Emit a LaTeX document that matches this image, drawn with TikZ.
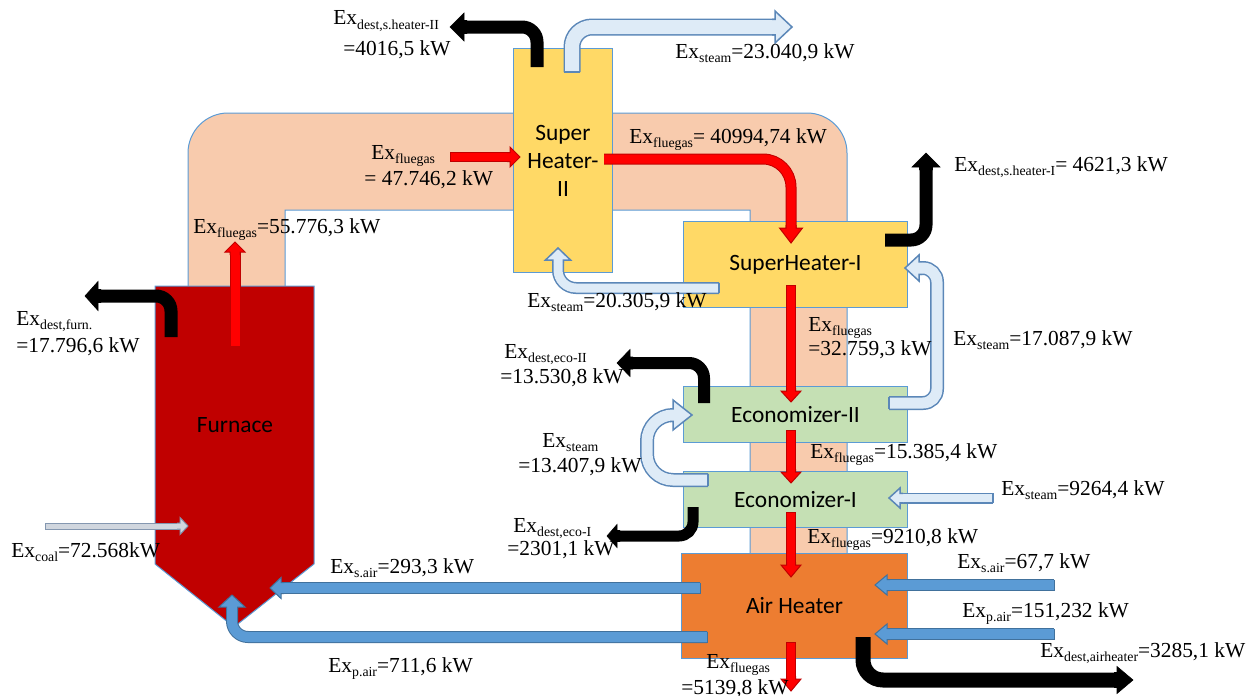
\documentclass[tikz,border=0pt]{standalone}
\usepackage{fontspec}
\setmainfont{Liberation Serif}
\newfontfamily\boxfont{Carlito}
\definecolor{duct}{HTML}{F8CBAD}
\definecolor{edge}{HTML}{5B9BD5}
\definecolor{shy}{HTML}{FFD966}
\definecolor{ecog}{HTML}{C5E0B4}
\definecolor{airh}{HTML}{ED7D31}
\definecolor{furn}{HTML}{C00000}
\definecolor{flue}{HTML}{FF0000}
\definecolor{flueedge}{HTML}{C00000}
\definecolor{steamfill}{HTML}{DEEBF7}
\definecolor{steamedge}{HTML}{5B87B8}
\definecolor{airfill}{HTML}{5B9BD5}
\definecolor{airedge}{HTML}{41719C}
\definecolor{coalfill}{HTML}{D0D6DE}
\definecolor{coaledge}{HTML}{8497B0}
\newcommand\sbs[1]{\raisebox{-2.3pt}{\fontsize{6.9}{7}\selectfont #1}}
\tikzset{
  pics/ahead/.style args={#1/#2/#3/#4}{code={%
    \path[pic actions] (-#3-#4,#1) -- (-#3,#1) -- (-#3,#2) -- (0,0) -- (-#3,-#2) -- (-#3,-#1) -- (-#3-#4,-#1);}},
  pics/atail/.style={code={\path[pic actions] (0,-#1) -- (0,#1);}},
}
\begin{document}
\begin{tikzpicture}[x=0.5pt,y=-0.5pt,
  lbl/.style={inner sep=0pt, anchor=base west, font=\fontsize{10.7}{13}\selectfont},
  box/.style={draw=edge, line width=0.5pt, inner sep=0pt, anchor=north west, align=center, font=\boxfont\fontsize{11.7}{14}\selectfont},
  redsh/.style={draw=flueedge, double=flue, line width=0.5pt, double distance=#1},
  redhd/.style={fill=flue, draw=flueedge, line width=0.5pt},
  redtl/.style={draw=flueedge, line width=0.5pt},
  blksh/.style={draw=black, line width=#1},
  blkhd/.style={fill=black, draw=black, line width=0.3pt},
  stmsh/.style={draw=steamedge, double=steamfill, line width=0.75pt, double distance=#1},
  stmhd/.style={fill=steamfill, draw=steamedge, line width=0.75pt},
  stmtl/.style={draw=steamedge, line width=0.75pt},
  airsh/.style={draw=airedge, double=airfill, line width=0.5pt, double distance=#1},
  airhd/.style={fill=airfill, draw=airedge, line width=0.5pt},
  airtl/.style={draw=airedge, line width=0.5pt},
  coalsh/.style={draw=coaledge, double=coalfill, line width=0.5pt, double distance=2.5pt},
  coalhd/.style={fill=coalfill, draw=coaledge, line width=0.5pt},
  coaltl/.style={draw=coaledge, line width=0.5pt}]
\useasboundingbox (0,0) rectangle (1250,696);
% flue gas duct
\draw[fill=duct, draw=edge, line width=0.5pt] (188,295) -- (188,153) .. controls (188,131) and (206,113) .. (228,113) -- (807,113) .. controls (829,113) and (847,131) .. (847,153) -- (847,560) -- (750,560) -- (750,210) -- (285,210) -- (285,295) -- cycle;
% furnace
\draw[fill=furn, draw=edge, line width=0.5pt] (155,286) -- (314,286) -- (314,564) -- (234,627) -- (155,564) -- cycle;
\node[inner sep=0pt, font=\boxfont\fontsize{11.7}{14}\selectfont] (furnace) at (235,425) {Furnace};
% boxes
\node[box, fill=shy, minimum width=49.5pt, minimum height=112pt] (sh2) at (513,48) {Super\\Heater-\\II};
\node[box, fill=shy, minimum width=112pt, minimum height=43pt] (sh1) at (683,221) {SuperHeater-I};
\node[box, fill=ecog, minimum width=112pt, minimum height=28pt] (eco2) at (683,386) {Economizer-II};
\node[box, fill=ecog, minimum width=112pt, minimum height=28pt] (eco1) at (683,471) {Economizer-I};
\node[box, fill=airh, minimum width=113pt, minimum height=52.5pt] (ah) at (681,553) {Air Heater};
% ---- arrows ----
% black: destruction SH-II
\draw[blksh=6.5pt, rounded corners=7.5pt] (537,67) -- (537,27) -- (464,27);
\pic[blkhd, rotate=180] at (450,27) {ahead=6.5/14/14/3};
% steam out 23.040,9
\draw[stmsh=7pt, rounded corners=10pt] (572,72) -- (572,27) -- (775,27);
\pic[stmhd] at (792,27) {ahead=7.75/16/17/3};
\pic[stmtl, rotate=90] at (572,72) {atail=7.75};
% red 47.746,2
\draw[redsh=4pt] (450,157) -- (510,157);
\pic[redhd] at (520,157) {ahead=4.5/10/10/3};
\pic[redtl] at (450,157) {atail=4.5};
% red 40994,74
\draw[redsh=4.5pt, rounded corners=14pt] (604,159) -- (791,159) -- (791,228);
\pic[redhd, rotate=-90] at (791,243) {ahead=5/11.5/15/3};
% red 55.776,3
\draw[redsh=4.5pt] (235,346) -- (235,252);
\pic[redhd, rotate=90] at (235,242) {ahead=5/10/10/3};
\pic[redtl, rotate=90] at (235,346) {atail=5};
% black furnace
\draw[blksh=6.5pt, rounded corners=7.5pt] (171,337) -- (171,296) -- (98,296);
\pic[blkhd, rotate=180] at (85,296) {ahead=6.5/14.5/13/3};
% coal
\draw[coalsh] (45,526) -- (180,526);
\pic[coalhd] at (188,526) {ahead=3/8.5/8/3};
\pic[coaltl] at (45,526) {atail=3};
% secondary air to furnace
\draw[airsh=5pt] (700,588) -- (281,588);
\pic[airhd, rotate=180] at (270,588) {ahead=5.5/10.5/11/3};
\pic[airtl] at (700,588) {atail=5.5};
% primary air to furnace
\draw[airsh=5pt, rounded corners=8pt] (707,637) -- (232,637) -- (232,607);
\pic[airhd, rotate=90] at (232,595) {ahead=5.5/13/12/3};
\pic[airtl] at (707,637) {atail=5.5};
% air inlets
\draw[airsh=5pt] (1054,585) -- (887,585);
\pic[airhd, rotate=180] at (875,585) {ahead=5.5/10/12/3};
\pic[airtl] at (1054,585) {atail=5.5};
\draw[airsh=5pt] (1054,634) -- (887,634);
\pic[airhd, rotate=180] at (875,634) {ahead=5.5/10/12/3};
\pic[airtl] at (1054,634) {atail=5.5};
% black air heater
\draw[blksh=7.5pt, rounded corners=10pt] (863,637) -- (863,680) -- (1117,680);
\pic[blkhd] at (1133,680) {ahead=7.5/13.5/16/3};
% red flue gas verticals
\draw[redsh=4pt] (791,642) -- (791,679);
\pic[redhd, rotate=-90] at (791,691) {ahead=4.5/10/12/3};
\pic[redtl, rotate=90] at (791,642) {atail=4.5};
\draw[redsh=4pt] (791,512) -- (791,565);
\pic[redhd, rotate=-90] at (791,577) {ahead=4.5/10/12/3};
\pic[redtl, rotate=90] at (791,512) {atail=4.5};
\draw[redsh=4pt] (791,430) -- (791,472);
\pic[redhd, rotate=-90] at (791,483) {ahead=4.5/10/11/3};
\pic[redtl, rotate=90] at (791,430) {atail=4.5};
\draw[redsh=4pt] (791,285) -- (791,391);
\pic[redhd, rotate=-90] at (791,402) {ahead=4.5/10/11/3};
\pic[redtl, rotate=90] at (791,285) {atail=4.5};
% black SH-I
\draw[blksh=6.5pt, rounded corners=7.5pt] (885,240) -- (926,240) -- (926,167);
\pic[blkhd, rotate=90] at (926,153) {ahead=6.5/14/14/3};
% steam 20.305,9
\draw[stmsh=4.5pt, rounded corners=9pt] (719,288) -- (558,288) -- (558,260);
\pic[stmhd, rotate=90] at (558,248) {ahead=5.25/12.5/12/3};
\pic[stmtl] at (719,288) {atail=5.25};
% steam 17.087,9
\draw[stmsh=5.5pt, rounded corners=7pt] (889,403) -- (937,403) -- (937,268) -- (919,268);
\pic[stmhd, rotate=180] at (905,268) {ahead=6.25/13/14/3};
\pic[stmtl] at (889,403) {atail=6.25};
% steam 13.407,9
\draw[stmsh=5.5pt, rounded corners=13pt] (708,480) -- (647,480) -- (647,415) -- (673,415);
\pic[stmhd] at (692,415) {ahead=6.25/15/19/3};
\pic[stmtl] at (708,480) {atail=6.25};
% steam 9264,4
\draw[stmsh=4pt] (993,498) -- (900,498);
\pic[stmhd, rotate=180] at (889,498) {ahead=4.75/10/11/3};
\pic[stmtl] at (993,498) {atail=4.75};
% black eco-II
\draw[blksh=6pt, rounded corners=7.5pt] (704,403) -- (704,363) -- (630,363);
\pic[blkhd, rotate=180] at (617,363) {ahead=6/13.5/13/3};
% black eco-I
\draw[blksh=5.5pt, rounded corners=7pt] (693,507) -- (693,536) -- (617,536);
\pic[blkhd, rotate=180] at (607,536) {ahead=5.5/11.5/10/3};
% ---- labels ----
\node[lbl] (l1a) at (333,25) {Ex\sbs{dest,s.heater-II}};
\node[lbl] (l1b) at (343,55) {=4016,5 kW};
\node[lbl] (l2) at (675,58) {Ex\sbs{steam}=23.040,9 kW};
\node[lbl] (l3a) at (371,159) {Ex\sbs{fluegas}};
\node[lbl] (l3b) at (364,185) {= 47.746,2 kW};
\node[lbl] (l4) at (629,143) {Ex\sbs{fluegas}= 40994,74 kW};
\node[lbl] (l5) at (954,171) {Ex\sbs{dest,s.heater-I}= 4621,3 kW};
\node[lbl] (l6) at (193,233) {Ex\sbs{fluegas}=55.776,3 kW};
\node[lbl] (l7a) at (16,325) {Ex\sbs{dest,furn.}};
\node[lbl] (l7b) at (16,352) {=17.796,6 kW};
\node[lbl] (l8) at (527,307) {Ex\sbs{steam}=20.305,9 kW};
\node[lbl] (l9a) at (808,331) {Ex\sbs{fluegas}};
\node[lbl] (l9b) at (808,355) {=32.759,3 kW};
\node[lbl] (l10) at (953,345) {Ex\sbs{steam}=17.087,9 kW};
\node[lbl] (l11a) at (504,358) {Ex\sbs{dest,eco-II}};
\node[lbl] (l11b) at (500,383) {=13.530,8 kW};
\node[lbl] (l12a) at (542,447) {Ex\sbs{steam}};
\node[lbl] (l12b) at (518,472) {=13.407,9 kW};
\node[lbl] (l13) at (810,458) {Ex\sbs{fluegas}=15.385,4 kW};
\node[lbl] (l14) at (1001,495) {Ex\sbs{steam}=9264,4 kW};
\node[lbl] (l15) at (807,543) {Ex\sbs{fluegas}=9210,8 kW};
\node[lbl] (l16a) at (513,532) {Ex\sbs{dest,eco-I}};
\node[lbl] (l16b) at (507,555) {=2301,1 kW};
\node[lbl] (l17) at (11,557) {Ex\sbs{coal}=72.568kW};
\node[lbl] (l18) at (330,573) {Ex\sbs{s.air}=293,3 kW};
\node[lbl] (l19) at (328,672) {Ex\sbs{p.air}=711,6 kW};
\node[lbl] (l20) at (957,568) {Ex\sbs{s.air}=67,7 kW};
\node[lbl] (l21) at (962,617) {Ex\sbs{p.air}=151,232 kW};
\node[lbl] (l22) at (1040,657) {Ex\sbs{dest,airheater}=3285,1 kW};
\node[lbl] (l23a) at (706,668) {Ex\sbs{fluegas}};
\node[lbl] (l23b) at (681,694) {=5139,8 kW};
\end{tikzpicture}
\end{document}
